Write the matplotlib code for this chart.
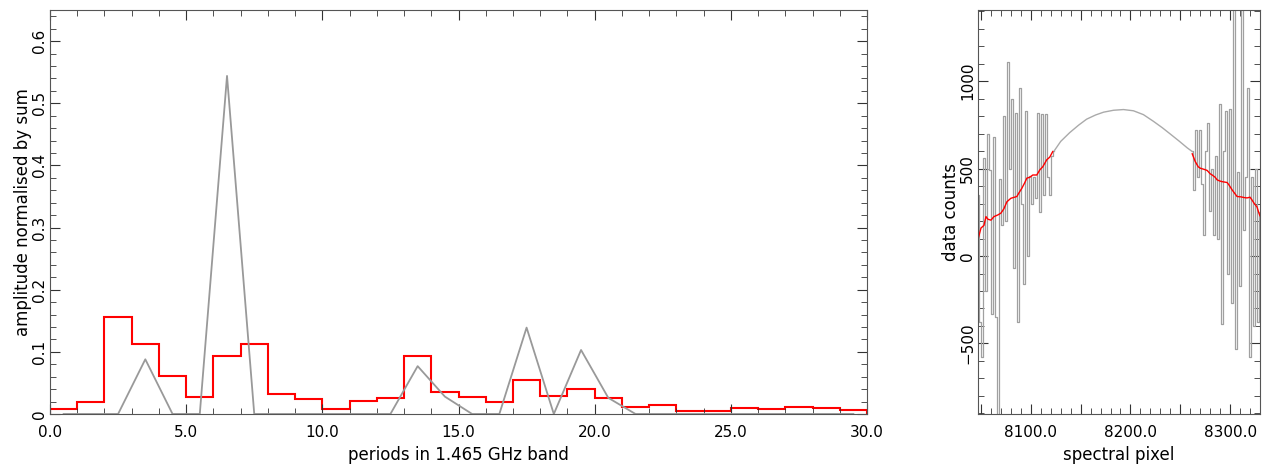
# periodogram of the band plus the spectrum it came from

import numpy as np
import matplotlib.pyplot as plt
from matplotlib.ticker import MultipleLocator

# left panel: amplitude per period bin (red) and per half-integer period (grey)
bin_edges = list(range(0, 31))
bin_amp = [0.008, 0.020, 0.156, 0.112, 0.061, 0.028, 0.094, 0.112, 0.032, 0.024,
           0.008, 0.021, 0.025, 0.094, 0.036, 0.028, 0.019, 0.055, 0.029, 0.040,
           0.026, 0.012, 0.014, 0.005, 0.005, 0.009, 0.008, 0.011, 0.009, 0.007]
per_x = [0.5, 1.5, 2.5, 3.5, 4.5, 5.5, 6.5, 7.5, 8.5, 9.5, 10.5, 11.5, 12.5, 13.5, 14.5,
         15.5, 16.5, 17.5, 18.5, 19.5, 20.5, 21.5, 22.5, 23.5, 24.5, 25.5, 26.5, 27.5,
         28.5, 29.5]
per_amp = [0, 0, 0, 0.088, 0, 0, 0.544, 0, 0, 0, 0, 0, 0, 0.077, 0.028,
           0, 0, 0.139, 0, 0.103, 0.026, 0, 0, 0, 0, 0, 0, 0, 0, 0]

# right panel: spectrum edges (noisy), fitted curve in the middle, running mean
chan_lo = [8047, 8049, 8051, 8053, 8055, 8057, 8059, 8061, 8063, 8065, 8067, 8069,
           8071, 8073, 8075, 8077, 8079, 8081, 8083, 8085, 8087, 8089, 8091, 8093,
           8095, 8097, 8099, 8101, 8103, 8105, 8107, 8109, 8111, 8113, 8115, 8117,
           8119, 8121, 8123]
counts_lo = [350, -380, -580, 560, -200, 700, 490, -330, 680, -350, -1000, 440,
             180, 800, 200, 1110, 500, 900, -70, 820, -380, 960, 300, -160,
             830, 0, 460, 300, 450, 330, 820, 250, 810, 350, 810, 450,
             350, 570, 600]
chan_hi = [8262, 8264, 8266, 8268, 8270, 8272, 8274, 8276, 8278, 8280, 8282, 8284,
           8286, 8288, 8290, 8292, 8294, 8296, 8298, 8300, 8302, 8304, 8306, 8308,
           8310, 8312, 8314, 8316, 8318, 8320, 8322, 8324, 8326, 8328, 8330]
counts_hi = [600, 380, 720, 450, 720, 410, 120, 600, 760, 260, 500, 120,
             570, 100, 870, -390, 600, 830, -100, 840, -270, 1450, -530, 480,
             -170, 1450, 150, 450, 960, -580, 450, -400, 500, -380, 250]
chan_mid = [8123, 8130, 8139, 8148, 8156, 8165, 8173, 8183, 8193, 8203, 8213, 8223,
            8232, 8240, 8249, 8257, 8262]
counts_mid = [597, 655, 705, 748, 782, 806, 822, 833, 837, 830, 808, 770,
              733, 697, 656, 618, 597]
mean_lo_x = [8047, 8050, 8053, 8055, 8057, 8060, 8063, 8067, 8070, 8073, 8076, 8080,
             8083, 8086, 8088, 8091, 8094, 8096, 8099, 8102, 8106, 8109, 8112, 8116,
             8119, 8122]
mean_lo = [95, 160, 175, 225, 210, 205, 225, 235, 245, 270, 310, 330, 335, 340, 360,
           387, 420, 445, 450, 463, 463, 492, 510, 550, 565, 597]
mean_hi_x = [8262, 8265, 8268, 8270, 8274, 8277, 8280, 8282, 8285, 8287, 8290, 8292,
             8297, 8299, 8302, 8305, 8307, 8311, 8314, 8317, 8320, 8322, 8324, 8327,
             8329, 8330]
mean_hi = [584, 540, 510, 502, 495, 489, 470, 463, 450, 435, 428, 425, 420, 405, 378,
           355, 340, 338, 334, 332, 336, 320, 302, 280, 244, 230]

plt.rcParams['font.family'] = 'DejaVu Sans'
fig = plt.figure(figsize=(12.64, 4.69), dpi=100)
ax1 = fig.add_axes([50/1264, 55/469, 817/1264, 404/469])
ax2 = fig.add_axes([978/1264, 55/469, 282/1264, 404/469])

ax1.stairs(bin_amp, bin_edges, color='red', lw=1.5)
ax1.plot(per_x, per_amp, color='#999999', lw=1.3)
ax1.set_xlim(0, 30)
ax1.set_ylim(0, 0.65)
ax1.xaxis.set_major_locator(MultipleLocator(5))
ax1.xaxis.set_minor_locator(MultipleLocator(1))
ax1.yaxis.set_major_locator(MultipleLocator(0.1))
ax1.yaxis.set_minor_locator(MultipleLocator(0.02))
ax1.xaxis.set_major_formatter(plt.FuncFormatter(lambda v, p: '%.1f' % v))
ax1.yaxis.set_major_formatter(plt.FuncFormatter(lambda v, p: '0' if abs(v) < 1e-9 else '%.1f' % v))
ax1.set_xlabel('periods in 1.465 GHz band', fontsize=12)
ax1.set_ylabel('amplitude normalised by sum', fontsize=12, labelpad=0)

ax2.plot(chan_lo, counts_lo, color='#a0a0a0', lw=0.9, drawstyle='steps-mid')
ax2.plot(chan_hi, counts_hi, color='#a0a0a0', lw=0.9, drawstyle='steps-mid')
ax2.plot(chan_mid, counts_mid, color='#aaaaaa', lw=1)
ax2.plot(mean_lo_x, mean_lo, color='red', lw=1)
ax2.plot(mean_hi_x, mean_hi, color='red', lw=1)
ax2.set_xlim(8047, 8330)
ax2.set_ylim(-903, 1406)
ax2.xaxis.set_major_locator(MultipleLocator(50))
ax2.xaxis.set_minor_locator(MultipleLocator(10))
ax2.xaxis.set_major_formatter(plt.FuncFormatter(lambda v, p: '%.1f' % v if v % 100 == 0 else ''))
ax2.yaxis.set_major_locator(MultipleLocator(500))
ax2.yaxis.set_minor_locator(MultipleLocator(100))
ax2.set_xlabel('spectral pixel', fontsize=12)
ax2.set_ylabel('data counts', fontsize=12, labelpad=0)

for ax in (ax1, ax2):
    ax.tick_params(which='both', direction='in', top=True, right=True, color='#333333',
                   labelsize=11)
    ax.tick_params(which='major', length=7)
    ax.tick_params(which='minor', length=4)
    ax.tick_params(axis='x', pad=8)
    ax.tick_params(axis='y', pad=2)
    for lab in ax.get_yticklabels():
        lab.set_rotation(90)
        lab.set_va('center')
    for s in ax.spines.values():
        s.set_color('#555555')

plt.savefig('out.png')
